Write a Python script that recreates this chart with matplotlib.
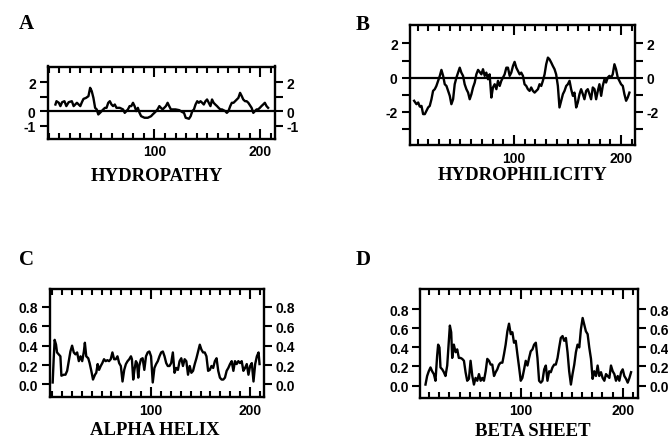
import matplotlib
matplotlib.use("Agg")
import matplotlib.pyplot as plt
from matplotlib.ticker import FixedLocator, MultipleLocator

# A - hidropatia
res_a = [6.5, 7.5, 9.7, 11.2, 12.8, 15, 16.8, 19, 22, 23.7, 26.8, 30, 31.5, 33, 35.4, 37.7, 39.3, 40.8,
         42.4, 44, 45.5, 47, 48.6, 51.7, 53.3, 54.8, 56.4, 57.9, 59.5, 61, 62.6, 64.2, 67.3, 70.4, 72,
         73.5, 75, 76.6, 78.2, 79.8, 81.3, 82.9, 84.4, 86, 87.5, 90.7, 93.8, 96.9, 98.4, 100, 101.6, 103,
         104.7, 106.2, 107.8, 109.3, 110.9, 112.5, 114, 115.6, 117, 120, 123.4, 125, 126.5, 128, 129.6,
         132.7, 134.3, 135.8, 137.4, 138.9, 140.5, 142, 143.6, 145.2, 146.7, 148.3, 149.8, 151.4, 153,
         154.5, 156, 157.6, 159.2, 160.7, 162.3, 163.9, 167, 168.5, 170, 171.7, 173.2, 174.8, 176.3,
         179.4, 181, 182.6, 184, 185.7, 187.2, 188.8, 191.9, 193.5, 195, 196.6, 198, 199.7, 201.2,
         202.8, 204.4, 206, 207.5]
val_a = [0.46, 0.69, 0.58, 0.35, 0.62, 0.69, 0.35, 0.62, 0.69, 0.35, 0.58, 0.35, 0.62, 0.85, 0.92, 1.04,
         1.62, 1.39, 0.92, 0.23, 0.12, -0.23, -0.12, 0.12, 0.23, 0.23, 0.58, 0.69, 0.46, 0.35, 0.46, 0.23,
         0.23, 0.12, -0.12, 0.0, 0.12, 0.35, 0.35, 0.58, 0.35, 0.0, 0.23, -0.12, -0.35, -0.46, -0.46,
         -0.35, -0.23, -0.12, 0.0, 0.12, 0.35, 0.23, 0.12, 0.23, 0.35, 0.58, 0.35, 0.12, 0.12, 0.12, 0.07,
         0.0, -0.07, -0.12, -0.46, -0.53, -0.35, 0.0, 0.12, 0.46, 0.69, 0.58, 0.69, 0.58, 0.46, 0.69, 0.81,
         0.58, 0.35, 0.81, 0.58, 0.46, 0.35, 0.23, 0.12, 0.12, 0.0, -0.12, 0.0, 0.35, 0.58, 0.58, 0.69,
         0.92, 1.27, 1.04, 0.81, 0.69, 0.69, 0.58, 0.23, -0.12, 0.0, 0.12, 0.12, 0.23, 0.35, 0.46, 0.58,
         0.35, 0.23]

# B - hidrofilicidade
res_b = [6.8, 9.0, 10.6, 12.1, 13.7, 15.2, 16.8, 18.3, 19.9, 21.4, 23.0, 24.5, 26.1, 27.6, 29.2, 30.8,
         32.3, 33.9, 35.4, 37.0, 38.5, 40.1, 41.6, 43.2, 44.7, 46.3, 47.8, 49.4, 50.9, 52.5, 54.0, 55.6,
         57.2, 58.7, 60.3, 61.8, 63.4, 64.9, 66.5, 68.0, 69.6, 71.1, 72.7, 74.2, 75.8, 77.3, 78.9, 80.4,
         82.0, 83.6, 85.1, 86.7, 88.2, 89.8, 91.3, 92.9, 94.4, 96.0, 97.5, 99.1, 100.6, 102.2, 103.7,
         105.3, 106.8, 108.4, 109.9, 111.5, 113.0, 114.6, 116.1, 117.7, 119.3, 120.8, 122.4, 123.9,
         125.5, 127.0, 128.6, 130.1, 131.7, 133.2, 134.8, 136.3, 137.9, 139.4, 141.0, 142.5, 144.1,
         145.7, 147.2, 148.8, 150.3, 151.9, 153.4, 155.0, 156.5, 158.1, 159.6, 161.2, 162.7, 164.3,
         165.8, 167.4, 168.9, 170.5, 172.0, 173.6, 175.2, 176.7, 178.3, 179.8, 181.4, 182.9, 184.5,
         186.0, 187.6, 189.1, 190.7, 192.2, 193.8, 195.3, 196.9, 198.4, 200.0, 201.6, 203.1, 204.7,
         206.2, 207.8]
val_b = [-1.36, -1.56, -1.46, -1.70, -1.66, -2.14, -2.14, -1.95, -1.75, -1.66, -1.27, -0.78, -0.68, -0.49,
         -0.19, 0.10, 0.45, 0.10, -0.39, -0.49, -0.78, -1.07, -1.56, -1.27, -0.39, 0.0, 0.29, 0.58, 0.29,
         0.10, -0.39, -0.68, -0.88, -1.27, -0.97, -0.58, -0.29, 0.19, 0.45, 0.33, 0.19, 0.49, 0.10, 0.29,
         -0.10, 0.19, -1.17, -0.58, -0.39, -0.68, -0.19, -0.49, -0.19, 0.0, 0.19, 0.58, 0.58, 0.10, 0.29,
         0.68, 0.92, 0.58, 0.39, 0.19, 0.29, 0.10, -0.39, -0.49, -0.68, -0.78, -0.58, -0.78, -0.88, -0.78,
         -0.68, -0.39, -0.49, -0.19, 0.19, 0.78, 1.17, 1.07, 0.88, 0.68, 0.49, 0.19, -0.49, -1.75, -1.36,
         -0.97, -0.78, -0.49, -0.39, -0.19, -0.68, -1.07, -0.88, -1.75, -1.46, -0.97, -0.68, -0.97, -1.27,
         -0.78, -0.68, -0.97, -1.27, -0.58, -0.68, -1.27, -0.78, -0.39, -1.07, -0.49, -0.10, -0.29, 0.0,
         0.10, 0.0, 0.19, 0.78, 0.49, 0.0, -0.19, -0.39, -0.49, -0.97, -1.36, -1.17, -0.88]

# C - alfa helice
res_c = [0.7, 1.7, 2.7, 4.1, 5.1, 6.8, 8.5, 9.5, 11.9, 13.6, 15.3, 16.9, 18.6, 20.3, 22.0, 23.7, 25.4,
         27.1, 28.8, 30.5, 32.2, 33.2, 34.6, 36.6, 38.0, 39.7, 41.4, 43.4, 44.7, 46.1, 47.5, 49.2, 50.8,
         52.5, 54.2, 55.9, 57.6, 59.3, 61.0, 62.7, 64.4, 66.1, 67.8, 69.5, 71.2, 72.9, 74.6, 76.3, 78.0,
         79.7, 80.7, 82.0, 83.1, 84.7, 85.8, 87.1, 88.1, 89.8, 91.5, 93.2, 94.9, 96.6, 98.3, 100.0, 101.7,
         103.4, 105.1, 106.8, 108.5, 110.2, 111.9, 113.6, 115.3, 116.9, 118.6, 120.3, 122.0, 123.7, 125.4,
         127.1, 128.8, 130.5, 132.2, 133.9, 135.6, 137.3, 139.0, 140.7, 142.4, 144.1, 145.8, 147.5, 149.2,
         150.8, 152.5, 154.2, 155.9, 157.6, 159.3, 161.0, 162.7, 164.4, 166.1, 167.8, 169.5, 171.2, 172.9,
         174.6, 176.3, 178.0, 179.7, 181.4, 183.1, 184.7, 186.4, 188.1, 189.8, 191.5, 193.2, 194.9, 196.6,
         198.3, 200.0, 201.7, 203.4, 205.1, 206.8, 208.5, 209.5]
val_c = [0.02, 0.26, 0.46, 0.41, 0.33, 0.31, 0.29, 0.09, 0.10, 0.10, 0.14, 0.24, 0.34, 0.40, 0.33, 0.31,
         0.33, 0.24, 0.29, 0.24, 0.34, 0.43, 0.29, 0.27, 0.22, 0.14, 0.05, 0.10, 0.12, 0.21, 0.15, 0.19,
         0.22, 0.26, 0.24, 0.25, 0.24, 0.26, 0.33, 0.26, 0.26, 0.29, 0.22, 0.19, 0.03, 0.15, 0.21, 0.24,
         0.26, 0.29, 0.26, 0.05, 0.14, 0.24, 0.22, 0.07, 0.19, 0.26, 0.27, 0.15, 0.29, 0.33, 0.34, 0.29,
         0.02, 0.17, 0.21, 0.24, 0.29, 0.33, 0.34, 0.29, 0.22, 0.19, 0.19, 0.22, 0.33, 0.12, 0.17, 0.15,
         0.24, 0.27, 0.19, 0.26, 0.24, 0.10, 0.19, 0.12, 0.14, 0.21, 0.27, 0.34, 0.41, 0.36, 0.33, 0.33,
         0.29, 0.14, 0.15, 0.19, 0.17, 0.24, 0.27, 0.14, 0.07, 0.05, 0.05, 0.07, 0.14, 0.17, 0.21, 0.24,
         0.14, 0.24, 0.21, 0.24, 0.22, 0.24, 0.14, 0.17, 0.21, 0.10, 0.19, 0.22, 0.03, 0.21, 0.29, 0.33,
         0.21]

# D - folha beta
res_d = [6.6, 8.2, 9.8, 11.5, 13.1, 14.8, 16.4, 18.0, 19.0, 20.3, 21.3, 23.0, 24.6, 26.2, 27.9, 29.5,
         30.5, 31.8, 32.8, 34.4, 36.1, 37.7, 39.3, 41.0, 42.6, 44.3, 45.9, 47.5, 49.2, 50.8, 52.5, 54.1,
         55.7, 57.4, 59.0, 60.7, 62.3, 63.9, 65.6, 67.2, 68.9, 70.5, 72.1, 73.8, 75.4, 77.0, 78.7, 80.3,
         82.0, 83.6, 85.2, 86.9, 88.5, 90.2, 91.8, 93.4, 95.1, 96.7, 98.4, 100.0, 101.6, 103.3, 104.9,
         106.6, 108.2, 109.8, 111.5, 113.1, 114.8, 116.4, 118.0, 119.7, 121.3, 123.0, 124.6, 126.2,
         127.9, 129.5, 131.1, 132.8, 134.4, 136.1, 137.7, 139.3, 141.0, 142.6, 144.3, 145.9, 147.5,
         149.2, 150.8, 152.5, 154.1, 155.7, 157.4, 159.0, 160.7, 162.3, 163.9, 165.6, 167.2, 168.9,
         170.5, 172.1, 173.8, 175.4, 177.0, 178.7, 180.3, 182.0, 183.6, 185.2, 186.9, 188.5, 190.2,
         191.8, 193.4, 195.1, 196.7, 198.4, 200.0, 201.6, 203.3, 204.9, 206.6, 208.2]
val_d = [0.01, 0.10, 0.15, 0.19, 0.15, 0.12, 0.05, 0.31, 0.43, 0.40, 0.19, 0.17, 0.14, 0.10, 0.21, 0.47,
         0.63, 0.56, 0.29, 0.43, 0.35, 0.38, 0.29, 0.29, 0.28, 0.26, 0.14, 0.05, 0.07, 0.26, 0.10, 0.01,
         0.08, 0.05, 0.12, 0.05, 0.08, 0.05, 0.15, 0.28, 0.26, 0.22, 0.22, 0.10, 0.14, 0.17, 0.22, 0.24,
         0.24, 0.33, 0.43, 0.57, 0.65, 0.54, 0.56, 0.45, 0.47, 0.33, 0.19, 0.05, 0.08, 0.17, 0.26, 0.21,
         0.29, 0.36, 0.38, 0.43, 0.45, 0.29, 0.05, 0.03, 0.05, 0.17, 0.21, 0.05, 0.15, 0.14, 0.19, 0.22,
         0.22, 0.29, 0.40, 0.50, 0.52, 0.47, 0.50, 0.35, 0.15, 0.01, 0.12, 0.22, 0.35, 0.43, 0.40, 0.59,
         0.71, 0.64, 0.57, 0.54, 0.40, 0.28, 0.07, 0.15, 0.10, 0.21, 0.10, 0.14, 0.08, 0.05, 0.12, 0.10,
         0.08, 0.21, 0.15, 0.12, 0.05, 0.10, 0.05, 0.14, 0.17, 0.10, 0.07, 0.03, 0.08, 0.14]

ticks_a = [-1, 0, 1, 2]
rot_a = ["-1", "0", "", "2"]
ticks_b = [-3, -2, -1, 0, 1, 2]
rot_b = ["", "-2", "", "0", "", "2"]
ticks_cd = [0.0, 0.2, 0.4, 0.6, 0.8]
rot_cd = ["0.0", "0.2", "0.4", "0.6", "0.8"]

W, H = 668, 439
fig = plt.figure(figsize=(W / 100, H / 100), dpi=100)
serif = "Liberation Serif"
sans = "Liberation Sans"


def px(x0, y0, x1, y1):
    return [x0 / W, 1 - y1 / H, (x1 - x0) / W, (y1 - y0) / H]


def painel(rect, res, val, xlim, ylim, yt, yl, zero, letra, pl, titulo, pt):
    ax = fig.add_axes(px(*rect))
    ax.plot(res, val, color="black", lw=1.7, solid_joinstyle="round")
    if zero:
        ax.axhline(0, color="black", lw=1.6)
    ax.set_xlim(*xlim)
    ax.set_ylim(*ylim)
    ax.xaxis.set_major_locator(FixedLocator([100, 200]))
    ax.xaxis.set_minor_locator(MultipleLocator(10))
    ax.set_yticks(yt)
    ax.set_yticklabels(yl)
    ax.tick_params(axis="x", which="both", direction="in", top=True, bottom=True,
                   width=1.5, pad=4, labelsize=10)
    ax.tick_params(axis="x", which="major", length=7.5)
    ax.tick_params(axis="x", which="minor", length=4.3)
    ax.tick_params(axis="y", direction="out", left=True, right=True, labelleft=True,
                   labelright=True, length=5.5, width=1.5, pad=3, labelsize=10)
    for lab in ax.get_xticklabels() + ax.get_yticklabels():
        lab.set_fontfamily(sans)
        lab.set_fontweight("bold")
    for s in ax.spines.values():
        s.set_linewidth(1.7)
    fig.text(pl[0] / W, 1 - pl[1] / H, letra, family=serif, weight="bold",
             fontsize=15, ha="center", va="center")
    fig.text(pt[0] / W, 1 - pt[1] / H, titulo, family=serif, weight="bold",
             fontsize=13.5, ha="center", va="center")
    return ax


painel((47.5, 67.5, 275, 139.5), res_a, val_a, (-1, 214), (-1.9, 3.1), ticks_a, rot_a, True,
       "A", (26, 24), "HYDROPATHY", (157, 176.5))
painel((409.5, 26, 635, 146), res_b, val_b, (2.5, 213), (-3.95, 3.08), ticks_b, rot_b, True,
       "B", (363, 25), "HYDROPHILICITY", (522.5, 176))
painel((50, 289.5, 264, 398), res_c, val_c, (-2, 214), (-0.13, 0.99), ticks_cd, rot_cd, False,
       "C", (26, 260), "ALPHA HELIX", (155, 430.5))
painel((420.5, 289.5, 638, 398.5), res_d, val_d, (1.7, 215), (-0.126, 1.02), ticks_cd, rot_cd, False,
       "D", (363, 260), "BETA SHEET", (532.5, 431.5))

fig.savefig("out.png", dpi=100)
